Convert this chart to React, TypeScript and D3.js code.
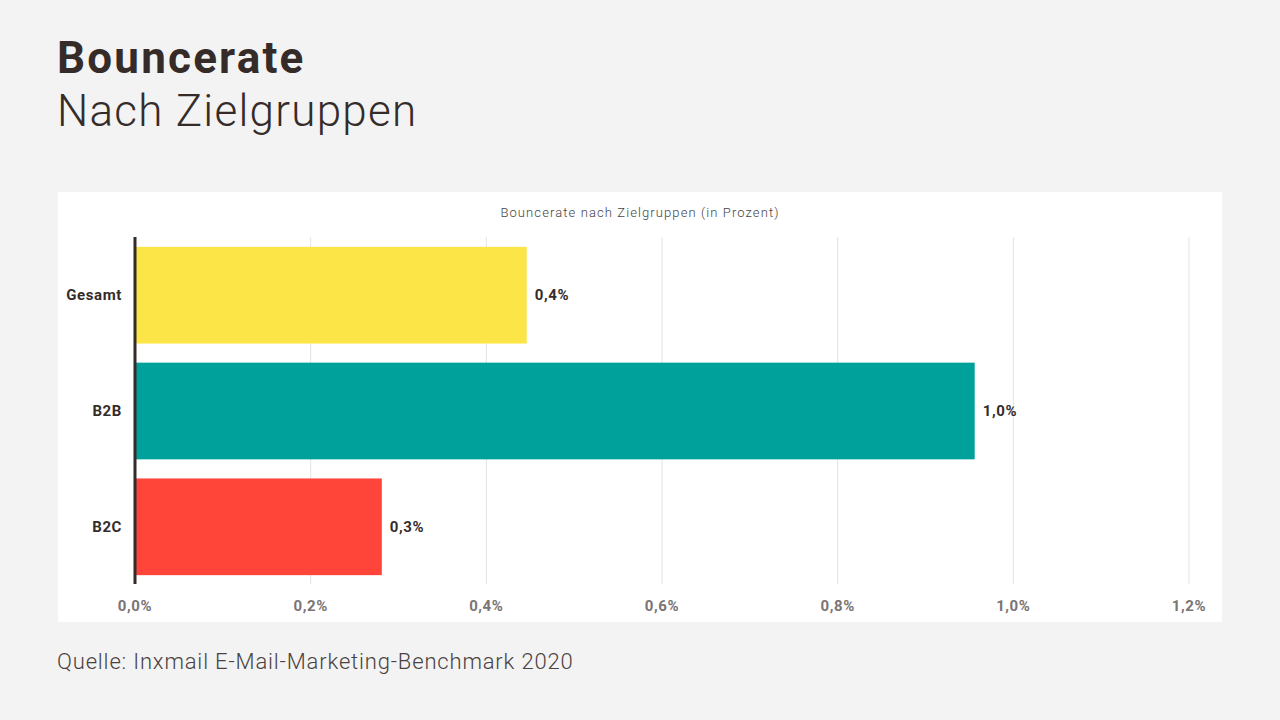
import React from "react";
import * as d3 from "d3";

const categories = ["Gesamt", "B2B", "B2C"];
const values = [0.446, 0.956, 0.281];
const valueLabels = ["0,4%", "1,0%", "0,3%"];
const colors = ["#FBE547", "#00A19A", "#FF443A"];
const ticks = [0, 0.2, 0.4, 0.6, 0.8, 1.0, 1.2];
const tickLabels = ["0,0%", "0,2%", "0,4%", "0,6%", "0,8%", "1,0%", "1,2%"];

const W = 1280;
const H = 720;
const font = "Roboto, 'DejaVu Sans', sans-serif";
const dark = "#352C2A";

export default function App() {
  const x = d3.scaleLinear().domain([0, 1.2]).range([135, 1189]);
  const y = d3
    .scaleBand<string>()
    .domain(categories)
    .range([237, 585])
    .paddingInner(0.165)
    .paddingOuter(0.085);

  return (
    <svg
      width={W}
      height={H}
      style={{ position: "absolute", left: 0, top: 0, display: "block" }}
    >
      <rect x={0} y={0} width={W} height={H} fill="#F3F3F3" />
      <text x={57} y={73} fontFamily={font} fontWeight={700} fontSize={44} letterSpacing={2.2} fill={dark}>
        Bouncerate
      </text>
      <text x={57} y={126} fontFamily={font} fontWeight={300} fontSize={44} letterSpacing={1.25} fill={dark}>
        Nach Zielgruppen
      </text>

      <rect x={58} y={192} width={1164} height={430} fill="#FFFFFF" />
      <text
        x={640}
        y={217}
        textAnchor="middle"
        fontFamily={font}
        fontWeight={300}
        fontSize={13}
        letterSpacing={1.1}
        fill="#444"
      >
        Bouncerate nach Zielgruppen (in Prozent)
      </text>

      {ticks.map((t, i) =>
        i === 0 ? null : (
          <line
            key={"g" + i}
            x1={x(t)}
            x2={x(t)}
            y1={237}
            y2={584}
            stroke="#E3E3E3"
            strokeWidth={1}
          />
        )
      )}

      {categories.map((c, i) => (
        <g key={c}>
          <rect
            x={x(0)}
            y={y(c)}
            width={x(values[i]) - x(0)}
            height={y.bandwidth()}
            fill={colors[i]}
          />
          <text
            x={x(values[i]) + 8}
            y={(y(c) as number) + y.bandwidth() / 2}
            dominantBaseline="central"
            fontFamily={font}
            fontWeight={700}
            fontSize={15}
            letterSpacing={0.6}
            fill={dark}
          >
            {valueLabels[i]}
          </text>
          <text
            x={122}
            y={(y(c) as number) + y.bandwidth() / 2}
            dominantBaseline="central"
            textAnchor="end"
            fontFamily={font}
            fontWeight={700}
            fontSize={15}
            letterSpacing={0.6}
            fill={dark}
          >
            {c}
          </text>
        </g>
      ))}

      <line x1={x(0)} x2={x(0)} y1={237} y2={584} stroke={dark} strokeWidth={3} />

      {ticks.map((t, i) => (
        <text
          key={"t" + i}
          x={x(t)}
          y={611}
          textAnchor="middle"
          fontFamily={font}
          fontWeight={700}
          fontSize={15}
          letterSpacing={0.6}
          fill="#7A7474"
        >
          {tickLabels[i]}
        </text>
      ))}

      <text x={57} y={669} fontFamily={font} fontWeight={300} fontSize={22} letterSpacing={0.83} fill="#4A4240">
        Quelle: Inxmail E-Mail-Marketing-Benchmark 2020
      </text>
    </svg>
  );
}
